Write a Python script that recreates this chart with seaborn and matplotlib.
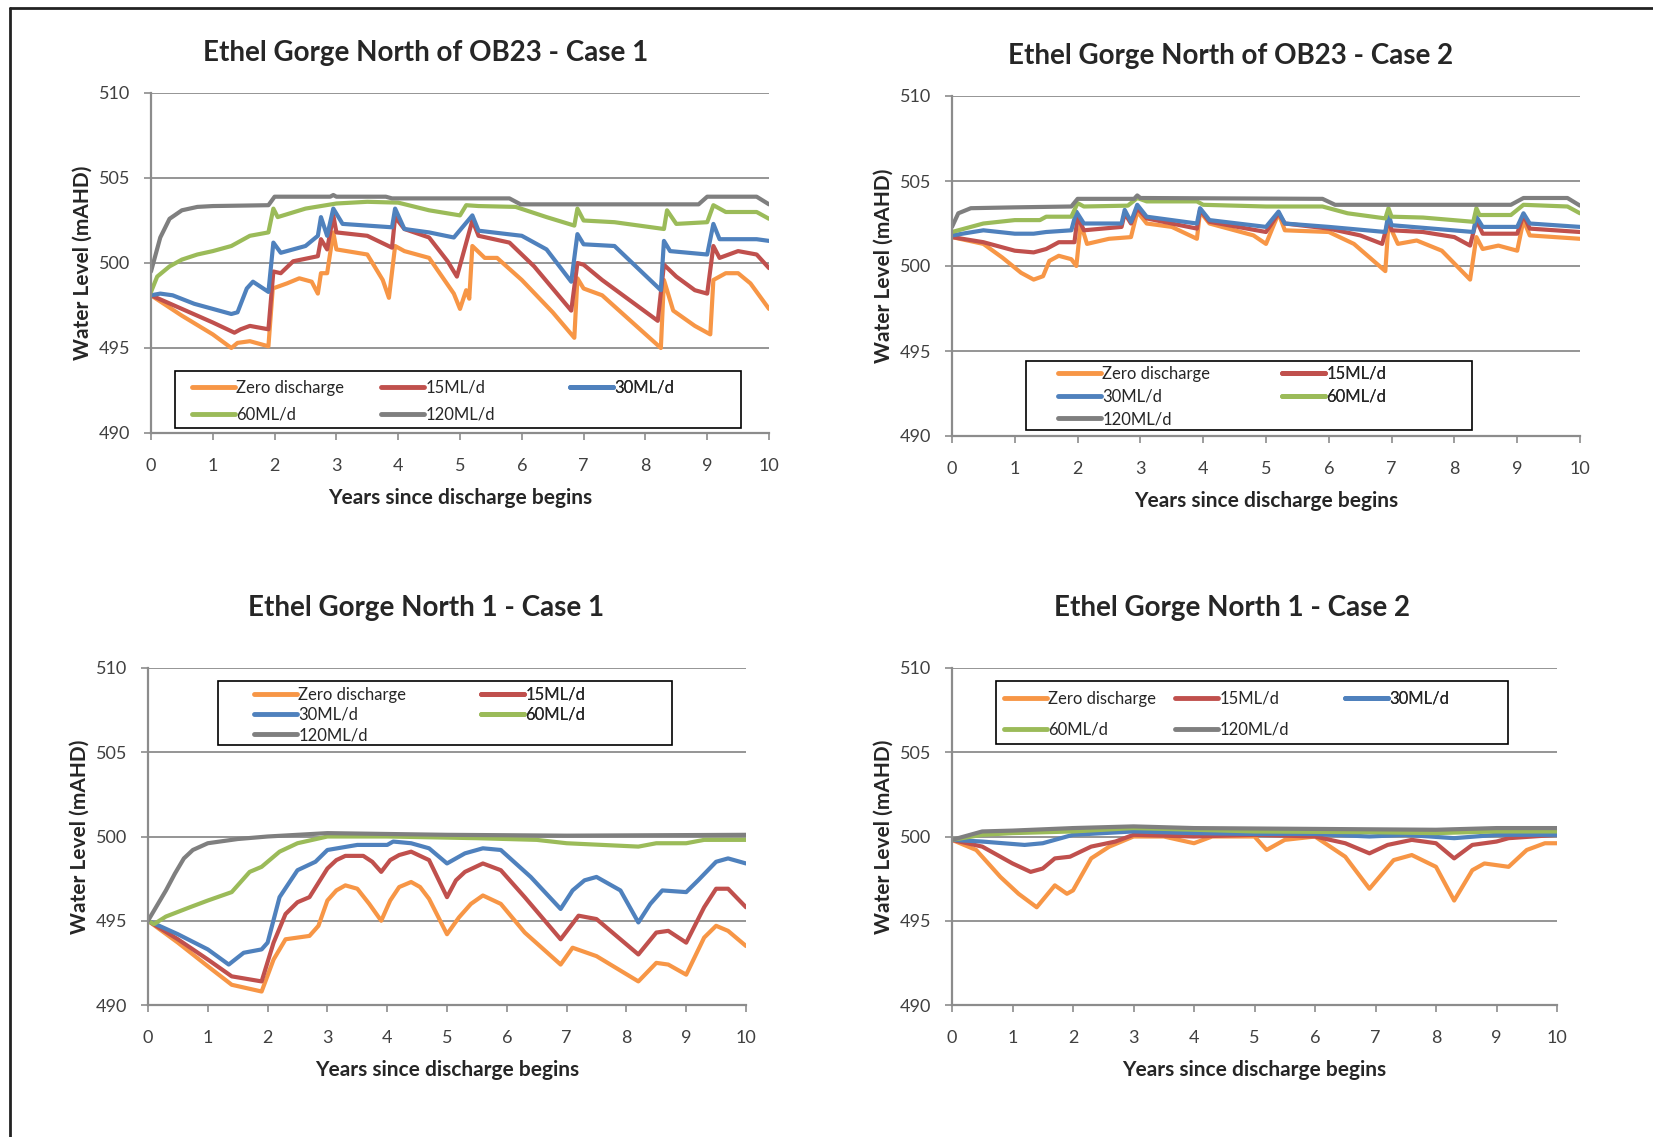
import numpy as np
import pandas as pd
import matplotlib.pyplot as plt
from matplotlib.lines import Line2D
from matplotlib.patches import Rectangle
import seaborn as sns

# Series names / colours (Excel 2010 palette)
series_names = ['Zero discharge', '15ML/d', '30ML/d', '60ML/d', '120ML/d']
series_colors = ['#F79646', '#C0504D', '#4F81BD', '#9BBB59', '#7F7F7F']

titles = ['Ethel Gorge North of OB23 - Case 1', 'Ethel Gorge North of OB23 - Case 2',
          'Ethel Gorge North 1 - Case 1', 'Ethel Gorge North 1 - Case 2']

# ---------------- Panel 1: North of OB23 - Case 1 ----------------
p1_zero_x = [0, 0.5, 1.0, 1.3, 1.4, 1.6, 1.9, 1.97, 2.2, 2.4, 2.6, 2.7, 2.75, 2.85, 2.95, 3.0, 3.5, 3.75, 3.85,
             3.95, 4.1, 4.5, 4.9, 5.0, 5.1, 5.15, 5.2, 5.4, 5.6, 6.0, 6.5, 6.85, 6.9, 7.0, 7.3, 8.25, 8.3, 8.45,
             8.8, 9.05, 9.1, 9.3, 9.5, 9.7, 10]
p1_zero_y = [498.1, 496.9, 495.8, 495.0, 495.3, 495.4, 495.1, 498.5, 498.8, 499.1, 498.9, 498.2, 499.4, 499.4,
             501.8, 500.8, 500.5, 499.0, 497.95, 501.0, 500.7, 500.3, 498.2, 497.3, 498.4, 497.9, 501.0, 500.3,
             500.3, 499.0, 497.1, 495.6, 499.1, 498.5, 498.1, 495.0, 499.0, 497.2, 496.3, 495.8, 499.0, 499.4,
             499.4, 498.8, 497.3]
p1_15_x = [0, 0.5, 1.0, 1.35, 1.45, 1.6, 1.9, 1.98, 2.1, 2.3, 2.7, 2.75, 2.85, 2.95, 3.0, 3.5, 3.9, 3.95, 4.1,
           4.5, 4.8, 4.95, 5.2, 5.3, 5.8, 6.2, 6.8, 6.9, 7.0, 7.3, 8.2, 8.3, 8.5, 8.8, 9.0, 9.1, 9.2, 9.5, 9.8, 10]
p1_15_y = [498.1, 497.3, 496.5, 495.9, 496.1, 496.3, 496.1, 499.5, 499.4, 500.1, 500.4, 501.4, 500.8, 502.8,
           501.8, 501.6, 500.9, 502.7, 502.0, 501.5, 500.1, 499.2, 502.5, 501.6, 501.2, 499.8, 497.2, 500.0,
           499.9, 499.0, 496.6, 499.9, 499.2, 498.4, 498.2, 501.0, 500.3, 500.7, 500.5, 499.7]
p1_30_x = [0, 0.15, 0.35, 0.7, 1.0, 1.3, 1.4, 1.55, 1.65, 1.9, 1.98, 2.1, 2.5, 2.7, 2.75, 2.85, 2.95, 3.1, 3.5,
           3.9, 3.95, 4.1, 4.5, 4.9, 5.2, 5.3, 6.0, 6.4, 6.8, 6.9, 7.0, 7.5, 8.25, 8.3, 8.4, 9.0, 9.1, 9.2, 9.8, 10]
p1_30_y = [498.1, 498.2, 498.1, 497.6, 497.3, 497.0, 497.1, 498.5, 498.9, 498.3, 501.2, 500.6, 501.0, 501.6,
           502.7, 501.6, 503.2, 502.3, 502.2, 502.1, 503.2, 502.0, 501.8, 501.5, 502.8, 501.9, 501.6, 500.8,
           498.9, 501.7, 501.1, 501.0, 498.4, 501.3, 500.7, 500.5, 502.3, 501.4, 501.4, 501.3]
p1_60_x = [0, 0.1, 0.3, 0.5, 0.75, 1.0, 1.3, 1.6, 1.9, 1.98, 2.05, 2.5, 3.0, 3.5, 4.0, 4.5, 5.0, 5.1, 5.3, 5.9,
           6.4, 6.85, 6.9, 7.0, 7.5, 8.3, 8.35, 8.5, 9.0, 9.1, 9.3, 9.8, 10]
p1_60_y = [498.3, 499.2, 499.8, 500.2, 500.5, 500.7, 501.0, 501.6, 501.8, 503.2, 502.7, 503.2, 503.5, 503.6,
           503.55, 503.1, 502.8, 503.4, 503.35, 503.3, 502.7, 502.2, 503.2, 502.5, 502.4, 502.0, 503.1, 502.3,
           502.4, 503.4, 503.0, 503.0, 502.6]
p1_120_x = [0, 0.15, 0.3, 0.5, 0.75, 1.0, 1.9, 2.0, 2.9, 2.95, 3.0, 3.8, 3.9, 5.8, 5.98, 8.86, 9.0, 9.8, 10]
p1_120_y = [499.5, 501.5, 502.6, 503.1, 503.3, 503.35, 503.4, 503.9, 503.9, 504.0, 503.9, 503.9, 503.8, 503.8,
            503.45, 503.45, 503.9, 503.9, 503.45]

# ---------------- Panel 2: North of OB23 - Case 2 ----------------
p2_zero_x = [0, 0.5, 0.8, 1.1, 1.3, 1.45, 1.55, 1.7, 1.9, 1.98, 2.05, 2.15, 2.5, 2.85, 2.95, 3.1, 3.5, 3.9, 3.95,
             4.1, 4.8, 5.0, 5.2, 5.3, 6.0, 6.4, 6.9, 6.95, 7.1, 7.4, 7.8, 8.25, 8.35, 8.45, 8.7, 9.0, 9.1, 9.2, 10]
p2_zero_y = [501.7, 501.3, 500.5, 499.6, 499.2, 499.4, 500.3, 500.6, 500.4, 500.0, 502.5, 501.3, 501.6, 501.7,
             503.2, 502.5, 502.3, 501.6, 503.2, 502.5, 501.8, 501.3, 503.1, 502.1, 502.0, 501.3, 499.7, 502.5,
             501.3, 501.5, 500.9, 499.2, 501.7, 501.0, 501.2, 500.9, 502.7, 501.8, 501.6]
p2_15_x = [0, 0.5, 1.0, 1.3, 1.5, 1.7, 1.95, 2.0, 2.1, 2.7, 2.75, 2.85, 2.95, 3.1, 3.9, 3.95, 4.1, 5.0, 5.2, 5.3,
           6.0, 6.5, 6.85, 6.95, 7.0, 7.5, 8.0, 8.25, 8.35, 8.45, 9.0, 9.1, 9.2, 10]
p2_15_y = [501.7, 501.4, 500.9, 500.8, 501.0, 501.4, 501.4, 502.9, 502.1, 502.3, 503.1, 502.5, 503.4, 502.8,
           502.2, 503.3, 502.6, 502.0, 503.1, 502.5, 502.2, 501.8, 501.3, 502.7, 502.1, 502.0, 501.7, 501.2,
           502.7, 501.9, 501.9, 503.0, 502.2, 502.0]
p2_30_x = [0, 0.5, 1.0, 1.3, 1.5, 1.9, 1.98, 2.1, 2.7, 2.75, 2.85, 2.95, 3.1, 3.5, 3.9, 3.95, 4.1, 5.0, 5.2, 5.3,
           6.0, 6.9, 6.95, 7.0, 8.3, 8.35, 8.45, 9.0, 9.1, 9.2, 10]
p2_30_y = [501.8, 502.1, 501.9, 501.9, 502.0, 502.1, 503.2, 502.5, 502.5, 503.3, 502.6, 503.6, 502.9, 502.7,
           502.5, 503.4, 502.7, 502.3, 503.2, 502.5, 502.3, 502.0, 503.1, 502.4, 502.0, 502.9, 502.3, 502.3,
           503.1, 502.5, 502.3]
p2_60_x = [0, 0.5, 1.0, 1.4, 1.5, 1.9, 2.0, 2.1, 2.8, 2.95, 3.1, 3.9, 4.0, 5.0, 5.9, 6.3, 6.9, 6.95, 7.0, 7.5,
           8.3, 8.35, 8.4, 8.9, 9.1, 9.8, 10]
p2_60_y = [502.0, 502.5, 502.7, 502.7, 502.9, 502.9, 503.7, 503.5, 503.55, 504.0, 503.8, 503.8, 503.6, 503.5,
           503.5, 503.1, 502.8, 503.4, 502.9, 502.85, 502.6, 503.4, 503.0, 503.0, 503.6, 503.5, 503.1]
p2_120_x = [0, 0.1, 0.3, 1.0, 1.9, 2.0, 2.9, 2.95, 3.0, 5.9, 6.1, 8.9, 9.1, 9.8, 10]
p2_120_y = [502.3, 503.1, 503.4, 503.45, 503.5, 503.95, 503.95, 504.15, 504.0, 503.95, 503.6, 503.6, 504.0,
            504.0, 503.55]

# ---------------- Panel 3: North 1 - Case 1 ----------------
p3_zero_x = [0, 0.5, 1.0, 1.4, 1.9, 2.1, 2.3, 2.5, 2.7, 2.85, 3.0, 3.15, 3.3, 3.5, 3.7, 3.9, 4.05, 4.2, 4.4, 4.55,
             4.7, 5.0, 5.2, 5.4, 5.6, 5.9, 6.3, 6.9, 7.1, 7.5, 8.2, 8.5, 8.7, 9.0, 9.3, 9.5, 9.7, 10]
p3_zero_y = [495.0, 493.7, 492.3, 491.2, 490.8, 492.7, 493.9, 494.0, 494.1, 494.7, 496.2, 496.8, 497.1, 496.9,
             496.0, 495.0, 496.2, 497.0, 497.3, 497.0, 496.3, 494.2, 495.2, 496.0, 496.5, 496.0, 494.3, 492.4,
             493.4, 492.9, 491.4, 492.5, 492.4, 491.8, 494.0, 494.7, 494.4, 493.5]
p3_15_x = [0, 0.5, 1.0, 1.4, 1.9, 2.1, 2.3, 2.5, 2.7, 3.0, 3.15, 3.3, 3.6, 3.75, 3.9, 4.05, 4.2, 4.4, 4.7, 5.0,
           5.15, 5.3, 5.6, 5.9, 6.3, 6.9, 7.2, 7.5, 8.2, 8.5, 8.7, 9.0, 9.3, 9.5, 9.7, 10]
p3_15_y = [495.0, 493.9, 492.7, 491.7, 491.4, 493.7, 495.4, 496.1, 496.4, 498.1, 498.6, 498.85, 498.85, 498.5,
           497.9, 498.6, 498.9, 499.1, 498.6, 496.4, 497.4, 497.9, 498.4, 498.0, 496.4, 493.9, 495.3, 495.1,
           493.0, 494.3, 494.4, 493.7, 495.8, 496.9, 496.9, 495.8]
p3_30_x = [0, 0.5, 1.0, 1.35, 1.6, 1.9, 2.0, 2.2, 2.5, 2.8, 3.0, 3.5, 4.0, 4.1, 4.4, 4.7, 5.0, 5.3, 5.6, 5.9, 6.4,
           6.9, 7.1, 7.3, 7.5, 7.9, 8.2, 8.4, 8.6, 9.0, 9.2, 9.5, 9.7, 10]
p3_30_y = [495.0, 494.2, 493.3, 492.4, 493.1, 493.3, 493.7, 496.4, 498.0, 498.5, 499.2, 499.5, 499.5, 499.7,
           499.6, 499.3, 498.4, 499.0, 499.3, 499.2, 497.6, 495.7, 496.8, 497.4, 497.6, 496.8, 494.9, 496.0,
           496.8, 496.7, 497.4, 498.5, 498.7, 498.4]
p3_60_x = [0, 0.1, 0.3, 0.7, 1.0, 1.4, 1.7, 1.9, 2.2, 2.5, 3.0, 4.0, 5.5, 6.5, 7.0, 8.2, 8.5, 9.0, 9.3, 10]
p3_60_y = [495.0, 494.8, 495.25, 495.8, 496.2, 496.7, 497.9, 498.2, 499.1, 499.6, 500.0, 500.0, 499.9, 499.8,
           499.6, 499.4, 499.6, 499.6, 499.8, 499.8]
p3_120_x = [0, 0.15, 0.3, 0.45, 0.6, 0.75, 1.0, 1.5, 2.0, 3.0, 5.0, 7.0, 10]
p3_120_y = [495.0, 495.9, 496.8, 497.8, 498.7, 499.2, 499.6, 499.85, 500.0, 500.2, 500.1, 500.05, 500.1]

# ---------------- Panel 4: North 1 - Case 2 ----------------
p4_zero_x = [0, 0.4, 0.8, 1.1, 1.4, 1.7, 1.9, 2.0, 2.3, 2.6, 3.0, 3.5, 4.0, 4.3, 5.0, 5.2, 5.5, 6.0, 6.5, 6.9,
             7.3, 7.6, 8.0, 8.3, 8.6, 8.8, 9.2, 9.5, 9.8, 10]
p4_zero_y = [499.8, 499.2, 497.6, 496.6, 495.8, 497.1, 496.6, 496.8, 498.7, 499.4, 500.0, 500.0, 499.6, 500.0,
             500.0, 499.2, 499.8, 500.0, 498.8, 496.9, 498.6, 498.9, 498.2, 496.2, 498.0, 498.4, 498.2, 499.2,
             499.6, 499.6]
p4_15_x = [0, 0.5, 1.0, 1.3, 1.5, 1.7, 1.95, 2.3, 2.7, 3.0, 4.0, 5.0, 6.0, 6.5, 6.9, 7.2, 7.6, 8.0, 8.3, 8.6,
           9.0, 9.2, 9.6, 10]
p4_15_y = [499.8, 499.4, 498.4, 497.9, 498.1, 498.7, 498.8, 499.4, 499.7, 500.1, 500.0, 500.1, 500.0, 499.6,
           499.0, 499.5, 499.8, 499.6, 498.7, 499.5, 499.7, 499.9, 500.0, 500.1]
p4_30_x = [0, 0.5, 1.2, 1.5, 2.0, 2.5, 3.0, 4.0, 5.0, 6.0, 6.9, 7.5, 8.3, 9.0, 10]
p4_30_y = [499.8, 499.7, 499.5, 499.6, 500.1, 500.2, 500.3, 500.2, 500.15, 500.15, 500.0, 500.1, 499.9, 500.1,
           500.1]
p4_60_x = [0, 0.5, 1.0, 2.0, 3.0, 5.0, 7.0, 8.0, 9.0, 10]
p4_60_y = [499.8, 500.1, 500.2, 500.3, 500.5, 500.3, 500.25, 500.2, 500.3, 500.3]
p4_120_x = [0, 0.5, 1.0, 2.0, 3.0, 4.0, 6.0, 8.0, 9.0, 10]
p4_120_y = [499.8, 500.3, 500.35, 500.5, 500.6, 500.5, 500.45, 500.4, 500.5, 500.5]


def make_frame(pairs):
    parts = []
    for name, (xs, ys) in zip(series_names, pairs):
        parts.append(pd.DataFrame({'year': xs, 'level': ys, 'series': name}))
    return pd.concat(parts, ignore_index=True)


panels = [
    make_frame([(p1_zero_x, p1_zero_y), (p1_15_x, p1_15_y), (p1_30_x, p1_30_y),
                (p1_60_x, p1_60_y), (p1_120_x, p1_120_y)]),
    make_frame([(p2_zero_x, p2_zero_y), (p2_15_x, p2_15_y), (p2_30_x, p2_30_y),
                (p2_60_x, p2_60_y), (p2_120_x, p2_120_y)]),
    make_frame([(p3_zero_x, p3_zero_y), (p3_15_x, p3_15_y), (p3_30_x, p3_30_y),
                (p3_60_x, p3_60_y), (p3_120_x, p3_120_y)]),
    make_frame([(p4_zero_x, p4_zero_y), (p4_15_x, p4_15_y), (p4_30_x, p4_30_y),
                (p4_60_x, p4_60_y), (p4_120_x, p4_120_y)]),
]

sns.set_theme(style='white')
plt.rcParams['font.family'] = ['Lato', 'DejaVu Sans']

W, H = 1653, 1137
fig = plt.figure(figsize=(W / 100, H / 100), dpi=100)

# layout in pixels (left, top, right, bottom)
boxes = [(151, 93, 769, 433), (952, 96, 1580, 436), (148, 668, 746, 1005), (952, 668, 1557, 1005)]
title_pos = [(426, 53), (1231, 56), (426, 608), (1232, 608)]
leg_boxes = [(175, 371, 741, 428), (1026, 361, 1472, 430), (218, 681, 672, 745), (996, 681, 1508, 744)]
leg_cols = [[192, 381, 570], [1058, 1282], [254, 481], [1004, 1175, 1345]]
leg_rows = [[386, 414], [372, 395, 419], [693, 714, 735], [697, 729]]
grid_col = '#8C8C8C'
leg_fs = 12

for i, df in enumerate(panels):
    l, t, r, b = boxes[i]
    ax = fig.add_axes([l / W, 1 - b / H, (r - l) / W, (b - t) / H])
    sns.lineplot(data=df, x='year', y='level', hue='series', hue_order=series_names,
                 palette=series_colors, linewidth=3, legend=False, ax=ax, sort=False)
    ax.set_xlim(0, 10)
    ax.set_ylim(490, 510)
    ax.set_xticks(range(0, 11))
    ax.set_yticks(range(490, 511, 5))
    ax.yaxis.grid(True, color=grid_col, linewidth=1.3)
    ax.set_axisbelow(True)
    for s in ['top', 'right']:
        ax.spines[s].set_visible(False)
    for s in ['left', 'bottom']:
        ax.spines[s].set_color(grid_col)
        ax.spines[s].set_linewidth(1.6)
    ax.tick_params(axis='both', direction='out', length=5, width=1.2, color=grid_col,
                   labelsize=13, labelcolor='#404040', left=True, bottom=True)
    ax.tick_params(axis='y', pad=10)
    ax.tick_params(axis='x', pad=13)
    ax.set_xlabel('Years since discharge begins', fontsize=15, fontweight='bold', labelpad=10)
    ax.set_ylabel('Water Level (mAHD)', fontsize=15, fontweight='bold', labelpad=4)

    tx, ty = title_pos[i]
    fig.text(tx / W, 1 - ty / H, titles[i], fontsize=20, fontweight='bold', ha='center', va='center')

    # legend: one frameless legend per column inside a drawn box
    bx0, by0, bx1, by1 = leg_boxes[i]
    ax.add_patch(Rectangle((bx0 / W, 1 - by1 / H), (bx1 - bx0) / W, (by1 - by0) / H,
                           transform=fig.transFigure, facecolor='white', edgecolor='black',
                           linewidth=1.2, zorder=4.5, clip_on=False))
    cols = leg_cols[i]
    rows = leg_rows[i]
    ncol = len(cols)
    pitch = (rows[-1] - rows[0]) / max(len(rows) - 1, 1)
    text_h = leg_fs * 1.389
    spacing = max((pitch - text_h) / text_h, 0)
    for c, cx in enumerate(cols):
        idx = [k for k in range(5) if k % ncol == c]
        handles = [Line2D([], [], color=series_colors[k], linewidth=3.5) for k in idx]
        labels = [series_names[k] for k in idx]
        leg = ax.legend(handles, labels, loc='upper left',
                        bbox_to_anchor=(cx / W, 1 - (rows[0] - text_h / 2 + 2) / H),
                        bbox_transform=fig.transFigure, frameon=False, fontsize=leg_fs,
                        handlelength=2.6, handletextpad=0.05, borderpad=0, borderaxespad=0,
                        labelspacing=spacing)
        ax.add_artist(leg)

# page frame (left and top edges)
fig.add_artist(Line2D([10 / W, 1], [1 - 8 / H, 1 - 8 / H], color='#222222', linewidth=2))
fig.add_artist(Line2D([10 / W, 10 / W], [0, 1 - 8 / H], color='#222222', linewidth=2))

fig.savefig('out.png', dpi=100)
